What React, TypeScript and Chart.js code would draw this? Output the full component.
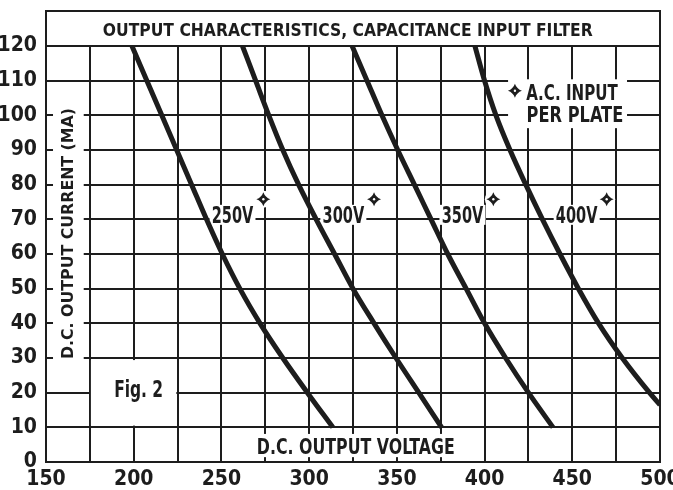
import React, { useEffect, useRef } from 'react';
import { Chart, registerables } from 'chart.js';

Chart.register(...registerables);

// ---- Data ----
const currentMA = [120, 110, 100, 90, 80, 70, 60, 50, 40, 30, 20, 10];
const volts250 = [199, 207.5, 216, 224.5, 233, 241.5, 250.5, 260.5, 272, 285, 299, 313.5];
const volts300 = [262, 269.5, 277, 285, 294, 304, 314.5, 325, 337, 349.5, 362.5, 375.5];
const volts350 = [324.5, 333, 341.5, 350.5, 360, 369.5, 379, 389.5, 400, 412, 425, 439];
const current400 = [120, 110, 100, 90, 80, 70, 60, 50, 40, 30, 20, 16.5];
const volts400 = [394.5, 400, 406.5, 414.5, 423.5, 433, 443, 453.5, 465, 478.5, 494, 500];
const seriesNames = ['250V', '300V', '350V', '400V'];

const xMin = 150;
const xMax = 500;
const xStep = 25;
const xLabelEvery = 50;
const yMin = 0;
const yMax = 120;
const yStep = 10;

const titleText = 'OUTPUT CHARACTERISTICS, CAPACITANCE INPUT FILTER';
const xTitle = 'D.C. OUTPUT VOLTAGE';
const yTitle = 'D.C. OUTPUT CURRENT (MA)';
const figText = 'Fig. 2';
const legendLine1 = 'A.C. INPUT';
const legendLine2 = 'PER PLATE';

// ---- annotation placement (in data units) ----
const curveLabelX = [256.3, 319.5, 387.4, 452.5];
const curveLabelY = 71.3;
const starX = [273.9, 337, 405, 469.6];
const starY = 75.8;

const INK = '#1d1d1d';
const FONT = '"Liberation Sans Narrow", "DejaVu Sans Condensed", "Arial Narrow", sans-serif';

function fitText(ctx: CanvasRenderingContext2D, text: string, cx: number, cy: number, width: number, cap: number, rot = 0, bold = true) {
  const size = cap / 0.72;
  ctx.save();
  ctx.font = `${bold ? 'bold ' : ''}${size}px ${FONT}`;
  const w = ctx.measureText(text).width;
  ctx.translate(cx, cy);
  ctx.rotate(rot);
  ctx.scale(width / w, 1);
  ctx.textAlign = 'center';
  ctx.textBaseline = 'alphabetic';
  ctx.fillStyle = INK;
  ctx.fillText(text, 0, cap / 2);
  ctx.restore();
}

function drawStar(ctx: CanvasRenderingContext2D, x: number, y: number, r: number) {
  ctx.save();
  ctx.fillStyle = '#ffffff';
  ctx.beginPath();
  ctx.arc(x, y, r + 1.5, 0, Math.PI * 2);
  ctx.fill();
  const k = r * 0.26;
  ctx.fillStyle = INK;
  ctx.beginPath();
  ctx.moveTo(x, y - r);
  ctx.quadraticCurveTo(x + k, y - k, x + r, y);
  ctx.quadraticCurveTo(x + k, y + k, x, y + r);
  ctx.quadraticCurveTo(x - k, y + k, x - r, y);
  ctx.quadraticCurveTo(x - k, y - k, x, y - r);
  ctx.closePath();
  ctx.fill();
  ctx.fillStyle = '#ffffff';
  ctx.beginPath();
  ctx.arc(x, y, r * 0.17, 0, Math.PI * 2);
  ctx.fill();
  ctx.restore();
}

const annotationPlugin = {
  id: 'annotations',
  beforeDatasetsDraw(chart: any) {
    const ctx: CanvasRenderingContext2D = chart.ctx;
    const xs = chart.scales.x;
    const ys = chart.scales.y;
    const px = (v: number) => xs.getPixelForValue(v);
    const py = (v: number) => ys.getPixelForValue(v);
    const area = chart.chartArea;

    const whiteBox = (x0: number, x1: number, y0: number, y1: number) => {
      ctx.fillStyle = '#ffffff';
      const a = px(x0), b = px(x1), c = py(y0), d = py(y1);
      ctx.fillRect(Math.min(a, b), Math.min(c, d), Math.abs(b - a), Math.abs(d - c));
    };

    ctx.save();
    // white blank-outs behind text
    whiteBox(154, 171.5, 103, 28.7);
    whiteBox(175.6, 224.3, 29.4, 10.5);
    whiteBox(268.6, 384.3, 8.1, 1.4);
    whiteBox(413.4, 481.2, 110.4, 96.3);
    seriesNames.forEach((_, i) => {
      const cx = px(curveLabelX[i]);
      const cy = py(curveLabelY);
      ctx.fillStyle = '#ffffff';
      ctx.fillRect(cx - 23, cy - 10, 46, 20);
    });

    // title box
    const titleTop = area.top - 35;
    ctx.strokeStyle = INK;
    ctx.lineWidth = 2;
    ctx.beginPath();
    ctx.moveTo(area.left, area.top);
    ctx.lineTo(area.left, titleTop);
    ctx.lineTo(area.right, titleTop);
    ctx.lineTo(area.right, area.top);
    ctx.stroke();
    fitText(ctx, titleText, px(322), (titleTop + area.top) / 2 + 0.5, 490, 13.3);

    // axis titles & figure label
    fitText(ctx, xTitle, px(326.6), py(4.33), 198, 15);
    fitText(ctx, yTitle, px(161.9), py(65.9), 251, 11.7, -Math.PI / 2);
    fitText(ctx, figText, px(202.8), py(21.1), 49, 16);

    // curve labels and markers
    seriesNames.forEach((name, i) => {
      fitText(ctx, name, px(curveLabelX[i]), py(curveLabelY), 41.6, 16);
      drawStar(ctx, px(starX[i]), py(starY), 7);
    });
    drawStar(ctx, px(417.3), py(107.1), 7);
    fitText(ctx, legendLine1, px(449.8), py(106.6), 91.6, 15);
    fitText(ctx, legendLine2, px(451.5), py(100.2), 96.6, 15);
    ctx.restore();
  },
};

export default function App() {
  const ref = useRef<HTMLCanvasElement | null>(null);

  useEffect(() => {
    if (!ref.current) return;
    const mk = (xv: number[], yv: number[], label: string) => ({
      label,
      data: xv.map((x, i) => ({ x, y: yv[i] })),
      borderColor: INK,
      borderWidth: 5,
      pointRadius: 0,
      cubicInterpolationMode: 'monotone' as const,
      fill: false,
      clip: 0,
      borderCapStyle: 'butt' as const,
    });
    const chart = new Chart(ref.current, {
      type: 'line',
      data: {
        datasets: [
          mk(volts250, currentMA, seriesNames[0]),
          mk(volts300, currentMA, seriesNames[1]),
          mk(volts350, currentMA, seriesNames[2]),
          mk(volts400, current400, seriesNames[3]),
        ],
      },
      options: {
        animation: false,
        responsive: false,
        devicePixelRatio: 1,
        layout: { padding: { top: 46, right: 13, left: 0, bottom: 0 } },
        plugins: { legend: { display: false }, tooltip: { enabled: false }, title: { display: false } },
        scales: {
          x: {
            type: 'linear',
            min: xMin,
            max: xMax,
            afterFit: (s: any) => { s.height = 28; s.paddingLeft = 0; s.paddingRight = 0; },
            ticks: {
              stepSize: xStep,
              autoSkip: false,
              maxRotation: 0,
              padding: 5,
              color: INK,
              font: { family: FONT, size: 21, weight: 'bold' },
              callback: (v: any) => (Number(v) % xLabelEvery === 0 ? String(v) : ''),
            },
            grid: { color: INK, lineWidth: 2, drawTicks: false },
            border: { display: true, color: INK, width: 2 },
          },
          y: {
            type: 'linear',
            min: yMin,
            max: yMax,
            afterFit: (s: any) => { s.width = 46; s.paddingTop = 0; s.paddingBottom = 0; },
            ticks: {
              stepSize: yStep,
              padding: 9,
              color: INK,
              font: { family: FONT, size: 21, weight: 'bold' },
            },
            grid: { color: INK, lineWidth: 2, drawTicks: false },
            border: { display: true, color: INK, width: 2 },
          },
        },
      },
      plugins: [annotationPlugin],
    });
    return () => chart.destroy();
  }, []);

  return (
    <canvas
      ref={ref}
      width={673}
      height={490}
      style={{ position: 'absolute', left: 0, top: 0, width: 673, height: 490, background: '#ffffff' }}
    />
  );
}
